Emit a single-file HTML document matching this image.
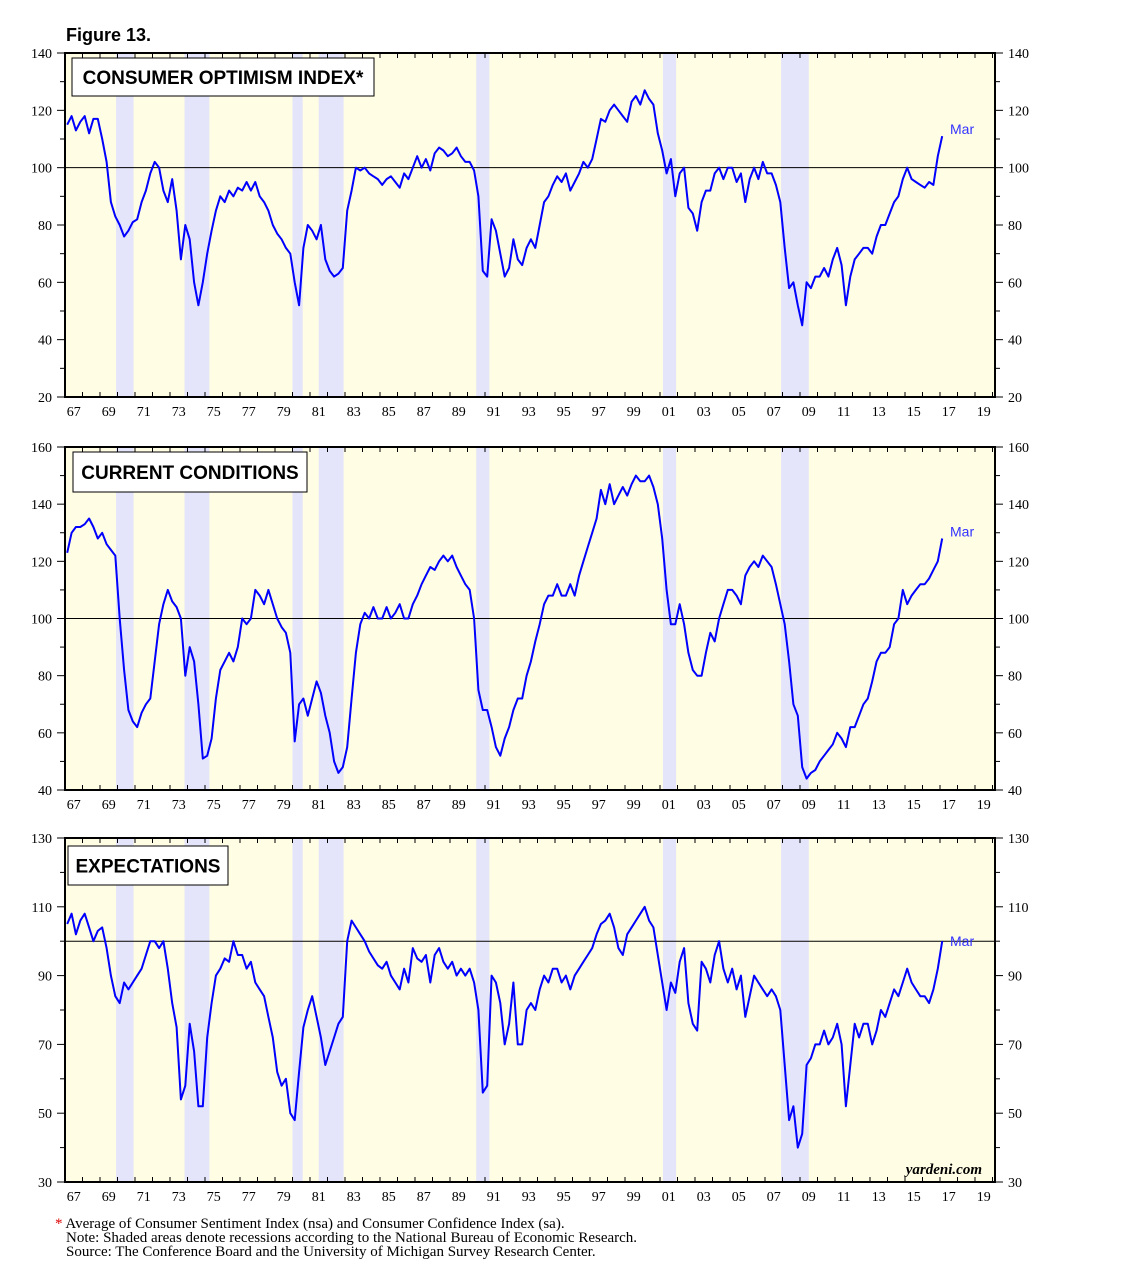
<!DOCTYPE html>
<html><head><meta charset="utf-8">
<style>
body{margin:0;background:#fff;width:1138px;height:1273px;overflow:hidden;font-family:"Liberation Sans",sans-serif}
svg{position:absolute;left:0;top:0}
</style></head>
<body>
<svg id="c" width="1138" height="1273" xmlns="http://www.w3.org/2000/svg">
<text x="66" y="41" font-family="Liberation Sans" font-weight="bold" font-size="18">Figure 13.</text>
<g font-family="Liberation Serif" font-size="15">
<text x="55" y="1228"><tspan fill="#d00">*</tspan> Average of Consumer Sentiment Index (nsa) and Consumer Confidence Index (sa).</text>
<text x="66" y="1242">Note: Shaded areas denote recessions according to the National Bureau of Economic Research.</text>
<text x="66" y="1256">Source: The Conference Board and the University of Michigan Survey Research Center.</text>
</g>
</svg>
<script>
const recessionStarts=[1969.92,1973.83,1980.0,1981.5,1990.5,2001.17,2007.92];
const recessionEnds=[1970.92,1975.25,1980.58,1982.92,1991.25,2001.92,2009.5];
const xTickLabels=["67","69","71","73","75","77","79","81","83","85","87","89","91","93","95","97","99","01","03","05","07","09","11","13","15","17","19"];
const optimism=[115,118,113,116,118,112,117,117,110,102,88,83,80,76,78,81,82,88,92,98,102,100,92,88,96,85,68,80,75,60,52,60,70,78,85,90,88,92,90,93,92,95,92,95,90,88,85,80,77,75,72,70,60,52,72,80,78,75,80,68,64,62,63,65,85,92,100,99,100,98,97,96,94,96,97,95,93,98,96,100,104,100,103,99,105,107,106,104,105,107,104,102,102,99,90,64,62,82,78,70,62,65,75,68,66,72,75,72,80,88,90,94,97,95,98,92,95,98,102,100,103,110,117,116,120,122,120,118,116,123,125,122,127,124,122,112,106,98,103,90,98,100,86,84,78,88,92,92,98,100,96,100,100,95,98,88,96,100,96,102,98,98,94,88,72,58,60,52,45,60,58,62,62,65,62,68,72,66,52,62,68,70,72,72,70,76,80,80,84,88,90,96,100,96,95,94,93,95,94,104,111];
const current=[123,130,132,132, 133,135,132,128, 130,126,124,122, 100,82,68,64, 62,67,70,72, 85,98,105,110, 106,104,100,80, 90,85,70,51, 52,58,72,82, 85,88,85,90, 100,98,100,110, 108,105,110,105, 100,97,95,88, 57,70,72,66, 72,78,74,66, 60,50,46,48, 55,72,88,98, 102,100,104,100, 100,104,100,102, 105,100,100,105, 108,112,115,118, 117,120,122,120, 122,118,115,112, 110,100,75,68, 68,62,55,52, 58,62,68,72, 72,80,85,92, 98,105,108,108, 112,108,108,112, 108,115,120,125, 130,135,145,140, 147,140,143,146, 143,147,150,148, 148,150,146,140, 128,110,98,98, 105,98,88,82, 80,80,88,95, 92,100,105,110, 110,108,105,115, 118,120,118,122, 120,118,112,105, 98,85,70,66, 48,44,46,47, 50,52,54,56, 60,58,55,62, 62,66,70,72, 78,85,88,88, 90,98,100,110, 105,108,110,112, 112,114,117,120, 128];
const expectations=[105,108,102,106,108,104,100,103,104,98,90,84,82,88,86,88,90,92,96,100,100,98,100,92,82,75,54,58,76,68,52,52,72,82,90,92,95,94,100,96,96,92,94,88,86,84,78,72,62,58,60,50,48,62,75,80,84,78,72,64,68,72,76,78,100,106,104,102,100,97,95,93,92,94,90,88,86,92,88,98,95,94,96,88,96,98,94,92,94,90,92,90,92,88,80,56,58,90,88,82,70,76,88,70,70,80,82,80,86,90,88,92,92,88,90,86,90,92,94,96,98,102,105,106,108,104,98,96,102,104,106,108,110,106,104,96,88,80,88,85,94,98,82,76,74,94,92,88,96,100,92,88,92,86,90,78,84,90,88,86,84,86,84,80,64,48,52,40,44,64,66,70,70,74,70,72,76,70,52,64,76,72,76,76,70,74,80,78,82,86,84,88,92,88,86,84,84,82,86,92,100];
const panels=[
 {name:"optimism",title:"CONSUMER OPTIMISM INDEX*",top:53,bot:397,min:20,max:140,step:20,box:[72,58,302,38],data:optimism},
 {name:"current-conditions",title:"CURRENT CONDITIONS",top:447,bot:790,min:40,max:160,step:20,box:[73,452,234,40],data:current},
 {name:"expectations",title:"EXPECTATIONS",top:838,bot:1182,min:30,max:130,step:20,box:[68,846,160,39],data:expectations}
];
const svg=document.getElementById('c');const NS="http://www.w3.org/2000/svg";
const L=65,R=995;
function xs(t){return L+(t-1967)*17.5;}
function mk(tag,attrs,parent){const e=document.createElementNS(NS,tag);for(const k in attrs)e.setAttribute(k,attrs[k]);(parent||svg).appendChild(e);return e;}
panels.forEach(p=>{
 const ys=v=>p.bot-(v-p.min)/(p.max-p.min)*(p.bot-p.top);
 const g=mk('g',{});
 
 
 const bg=mk('rect',{x:L,y:p.top,width:R-L,height:p.bot-p.top,fill:'#fffde3'},g);
 
 
 recessionStarts.forEach((s,i)=>{
  const r=mk('rect',{x:xs(s),y:p.top,width:xs(recessionEnds[i])-xs(s),height:p.bot-p.top,fill:'#e4e4fa'},g);
  
  
 });
 const ref=mk('line',{x1:L,x2:R,y1:ys(100),y2:ys(100),stroke:'#000','stroke-width':1},g);
 
 
 for(let v=p.min;v<=p.max;v+=10){
  const y=ys(v);const major=((v-p.min)%p.step===0);const len=major?8:5;
  mk('line',{x1:L-len,x2:L,y1:y,y2:y,stroke:'#000'},g);
  mk('line',{x1:R,x2:R+len,y1:y,y2:y,stroke:'#000'},g);
  if(major){
   const tl=mk('text',{x:L-13,y:y+5,'text-anchor':'end','font-family':'Liberation Serif','font-size':14},g);tl.textContent=v;
   
   
   const tr=mk('text',{x:R+13,y:y+5,'font-family':'Liberation Serif','font-size':14},g);tr.textContent=v;
   
   
  }
 }
 for(let yr=1967;yr<=2020;yr++){
  mk('line',{x1:xs(yr),x2:xs(yr),y1:p.bot,y2:p.bot-5,stroke:'#000'},g);
  mk('line',{x1:xs(yr),x2:xs(yr),y1:p.top,y2:p.top+5,stroke:'#000'},g);
 }
 xTickLabels.forEach((lab,i)=>{
  const t=mk('text',{x:xs(1967+2*i+0.5),y:p.bot+19,'text-anchor':'middle','font-family':'Liberation Serif','font-size':14},g);t.textContent=lab;
  
  
 });
 let d='';p.data.forEach((v,i)=>{d+=(i?'L':'M')+xs(1967.125+i*0.25).toFixed(1)+','+ys(v).toFixed(1);});
 const line=mk('path',{d:d,fill:'none',stroke:'#0000ff','stroke-width':2,'stroke-linejoin':'round'},g);
 
 
 const last=p.data[p.data.length-1];
 const m=mk('text',{x:950,y:ys(last)+(p.name==='expectations'?5:-2),'font-family':'Liberation Sans','font-size':14,fill:'#3333ff'},g);m.textContent='Mar';
 
 
 const fr=mk('rect',{x:L,y:p.top,width:R-L,height:p.bot-p.top,fill:'none',stroke:'#000','stroke-width':2},g);
 
 
 const b=p.box;
 const tb=mk('rect',{x:b[0],y:b[1],width:b[2],height:b[3],fill:'#fff',stroke:'#000','stroke-width':1},g);
 
 
 const tt=mk('text',{x:b[0]+b[2]/2,y:b[1]+b[3]/2+7,'text-anchor':'middle','font-family':'Liberation Sans','font-weight':'bold','font-size':19},g);tt.textContent=p.title;
 
 
});
const src=mk('text',{x:982,y:1174,'text-anchor':'end','font-family':'Liberation Serif','font-style':'italic','font-weight':'bold','font-size':15});src.textContent='yardeni.com';


</script>
</body></html>
